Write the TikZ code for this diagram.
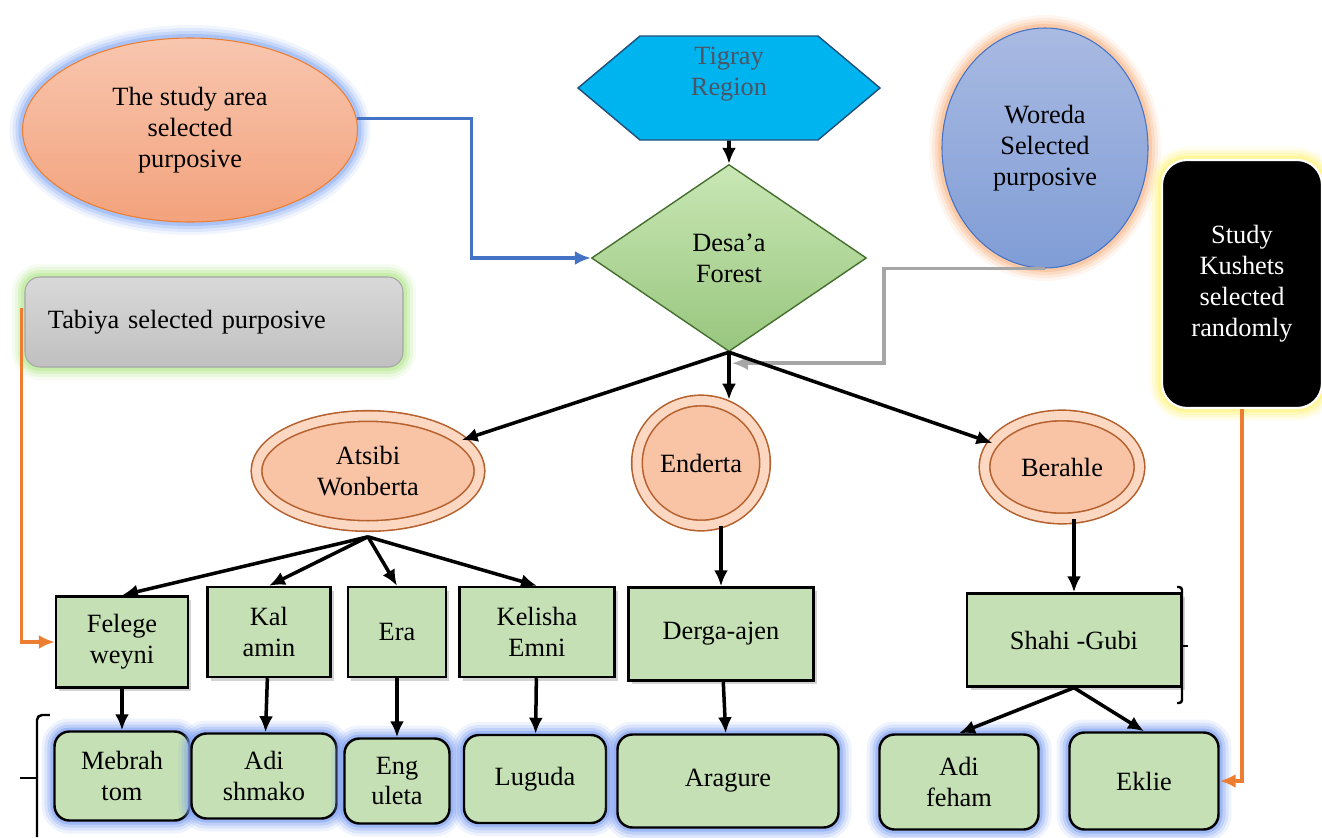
\documentclass[tikz,border=0pt]{standalone}
\usepackage{fontspec}
\setmainfont{Liberation Serif}
\usetikzlibrary{arrows.meta,shapes.geometric,shapes.symbols,shadows}

\definecolor{hexblue}{HTML}{00B5EF}
\definecolor{hexedge}{HTML}{1F4E79}
\definecolor{hextext}{HTML}{4D5466}
\definecolor{diatop}{HTML}{C9E7B5}
\definecolor{diabot}{HTML}{98C67E}
\definecolor{diaedge}{HTML}{456F2F}
\definecolor{salmontop}{HTML}{F8C6AF}
\definecolor{salmonbot}{HTML}{F3A27C}
\definecolor{salmonedge}{HTML}{ED7D31}
\definecolor{woredatop}{HTML}{A9BAE2}
\definecolor{woredabot}{HTML}{809DD6}
\definecolor{woredaedge}{HTML}{4472C4}
\definecolor{greytop}{HTML}{D9D9D9}
\definecolor{greybot}{HTML}{C0C0C0}
\definecolor{greyedge}{HTML}{A6A6A6}
\definecolor{haloblue}{HTML}{8FB0F5}
\definecolor{haloorange}{HTML}{F9B98C}
\definecolor{halogreen}{HTML}{B5E88F}
\definecolor{haloyellow}{HTML}{FFF27A}
\definecolor{kushethalo}{HTML}{7FA0F2}
\definecolor{leafgreen}{HTML}{C5E0B4}
\definecolor{districtfill}{HTML}{F9C3A5}
\definecolor{districtring}{HTML}{FCD7C2}
\definecolor{districtedge}{HTML}{B5612E}
\definecolor{linkblue}{HTML}{4472C4}
\definecolor{linkorange}{HTML}{ED7D31}
\definecolor{linkgrey}{HTML}{A6A6A6}

\begin{document}
\begin{tikzpicture}[>={Latex[length=0.32cm,width=0.28cm]},
    every node/.style={font=\fontsize{15}{17.6}\selectfont, align=center, inner sep=2pt},
    halo/.style={preaction={draw=#1,line width=0.52cm,opacity=0.12},
                 preaction={draw=#1,line width=0.4cm,opacity=0.2},
                 preaction={draw=#1,line width=0.28cm,opacity=0.3},
                 preaction={draw=#1,line width=0.16cm,opacity=0.5}},
    district/.style={ellipse, draw=districtedge, line width=0.9pt, double=districtring,
                     double distance=0.18cm, fill=districtfill},
    kebele/.style={rectangle, draw, line width=1.4pt, fill=leafgreen, minimum height=1.8cm,
                   drop shadow={shadow xshift=0.07cm, shadow yshift=-0.07cm, opacity=0.35}},
    kushet/.style={rectangle, rounded corners=0.3cm, draw, line width=1.4pt, fill=leafgreen,
                   halo=kushethalo},
    link/.style={->, line width=2pt}]
      \useasboundingbox (-14.58,1.76) rectangle (11.86,-14.98);

      \node[signal, signal to=east and west, signal pointer angle=80, minimum width=6.04cm,
            minimum height=2.08cm, fill=hexblue, draw=hexedge, line width=0.8pt, text=hextext]
            (1) at (0,0) {\raisebox{0.16cm}[0pt][0pt]{\begin{tabular}{@{}c@{}}Tigray\\Region\end{tabular}}};
      \node[diamond, below of=1, yshift=-2.4cm, minimum width=5.5cm, minimum height=3.74cm,
            inner sep=0pt, top color=diatop, bottom color=diabot, draw=diaedge, line width=0.8pt]
            (2) {Desa’a\\Forest};
      \node[ellipse, left of=1, xshift=-9.78cm, yshift=-0.84cm, minimum width=6.7cm,
            minimum height=3.68cm, top color=salmontop, bottom color=salmonbot,
            draw=salmonedge, line width=0.6pt, halo=haloblue]
            (3) {The study area\\selected\\purposive};
      \node[ellipse, right of=1, xshift=5.32cm, yshift=-1.2cm, minimum width=4.12cm,
            minimum height=4.8cm, top color=woredatop, bottom color=woredabot,
            draw=woredaedge, line width=0.6pt, halo=haloorange]
            (4) {Woreda\\Selected\\purposive};
      \node[rectangle, rounded corners=0.3cm, below of=3, xshift=0.48cm, yshift=-2.84cm,
            minimum width=7.56cm, minimum height=1.8cm, text width=6.64cm, inner xsep=0.46cm,
            align=left, top color=greytop, bottom color=greybot, draw=greyedge,
            line width=0.6pt, halo=halogreen]
            (5) {Tabiya selected purposive};
      \node[rectangle, rounded corners=0.5cm, right of=4, xshift=2.94cm, yshift=-2.72cm,
            minimum width=3.2cm, minimum height=4.96cm, fill=black, draw=white,
            line width=1.2pt, text=white, halo=haloyellow]
            (6) {Study\\Kushets\\selected\\randomly};

      \node[district, below of=2, xshift=-0.56cm, yshift=-3.1cm, minimum width=2.56cm,
            minimum height=2.5cm] (8) {Enderta};
      \node[district, left of=8, xshift=-5.66cm, yshift=-0.16cm, minimum width=4.46cm,
            minimum height=2.2cm] (7) {Atsibi\\Wonberta};
      \node[district, right of=8, xshift=6.22cm, yshift=-0.08cm, minimum width=3.1cm,
            minimum height=2.06cm] (9) {Berahle};

      \node[kebele, below of=8, xshift=0.4cm, yshift=-2.42cm, minimum width=3.7cm,
            minimum height=1.86cm] (14) {Derga-ajen};
      \node[kebele, left of=14, xshift=-2.68cm, yshift=0.04cm, minimum width=3.1cm] (13) {Kelisha\\Emni};
      \node[kebele, left of=13, xshift=-1.8cm, minimum width=1.96cm] (12) {Era};
      \node[kebele, left of=12, xshift=-1.56cm, minimum width=2.46cm] (11) {Kal\\amin};
      \node[kebele, left of=11, xshift=-1.94cm, yshift=-0.2cm, minimum width=2.64cm,
            minimum height=1.82cm] (10) {Felege\\weyni};
      \node[kebele, below of=9, xshift=0.24cm, yshift=-2.46cm, minimum width=4.28cm,
            minimum height=1.86cm] (15) {Shahi -Gubi};

      \node[kushet, below of=10, yshift=-1.68cm, minimum width=2.7cm, minimum height=1.78cm] (16) {Mebrah\\tom};
      \node[kushet, below of=11, xshift=-0.1cm, yshift=-1.88cm, minimum width=2.9cm,
            minimum height=1.7cm] (17) {Adi\\shmako};
      \node[kushet, below of=12, yshift=-1.98cm, minimum width=2.1cm, minimum height=1.7cm] (18) {Eng\\uleta};
      \node[kushet, below of=13, xshift=-0.04cm, yshift=-1.94cm, minimum width=2.84cm,
            minimum height=1.76cm] (19) {Luguda};
      \node[kushet, below of=14, xshift=0.14cm, yshift=-1.94cm, minimum width=4.42cm,
            minimum height=1.86cm] (20) {Aragure};
      \node[kushet, below of=15, xshift=-2.3cm, yshift=-1.84cm, minimum width=3.18cm,
            minimum height=1.9cm] (21) {Adi\\feham};
      \node[kushet, below of=15, xshift=1.4cm, yshift=-1.82cm, minimum width=2.98cm,
            minimum height=1.94cm] (22) {Eklie};

      \draw[link] (1) -- (2);
      \draw[link, linkblue] (3.4) -- ++(2.3,0) |- (2.west);
      \draw[link, linkgrey] (4.south) -- ++(-3.22,0) |- ([xshift=0.06cm,yshift=-0.22cm]2.south);
      \draw[link, linkorange] ([xshift=-0.06cm,yshift=0.28cm]5.west) |- (10.west);
      \draw[link, linkorange] (6.south) |- (22.east);

      \draw[link] (2.south) -- (7);
      \draw[link] (2.south) -- (2.south |- 8.north);
      \draw[link] (2.south) -- (9);

      \draw[link] ([yshift=-0.2cm]7.south) -- (10.north);
      \draw[link] ([yshift=-0.2cm]7.south) -- (11.north);
      \draw[link] ([yshift=-0.2cm]7.south) -- (12.north);
      \draw[link] ([yshift=-0.2cm]7.south) -- (13.north);
      \draw[link] (14.north |- 8.south) -- (14.north);
      \draw[link] (15.north |- 9.south) -- (15.north);

      \draw[link] (10) -- (16);
      \draw[link] (11) -- (17);
      \draw[link] (12) -- (18);
      \draw[link] (13) -- (19);
      \draw[link] (14) -- (20);
      \draw[link] (15.south) -- (21.north);
      \draw[link] (15.south) -- (22.north);

      \draw[line width=1.4pt, rounded corners=0.1cm] (-13.58,-12.54) -- (-13.84,-12.54) -- (-13.84,-14.98);
      \draw[line width=1.4pt] (-14.18,-13.8) -- (-13.84,-13.8);
      \draw[line width=1.4pt, rounded corners=0.06cm] (8.96,-9.98) -- (9.06,-9.98) -- (9.06,-12.3) -- (8.96,-12.3);
      \draw[line width=1.4pt] (9.06,-11.16) -- (9.18,-11.16);
    \end{tikzpicture}
\end{document}
